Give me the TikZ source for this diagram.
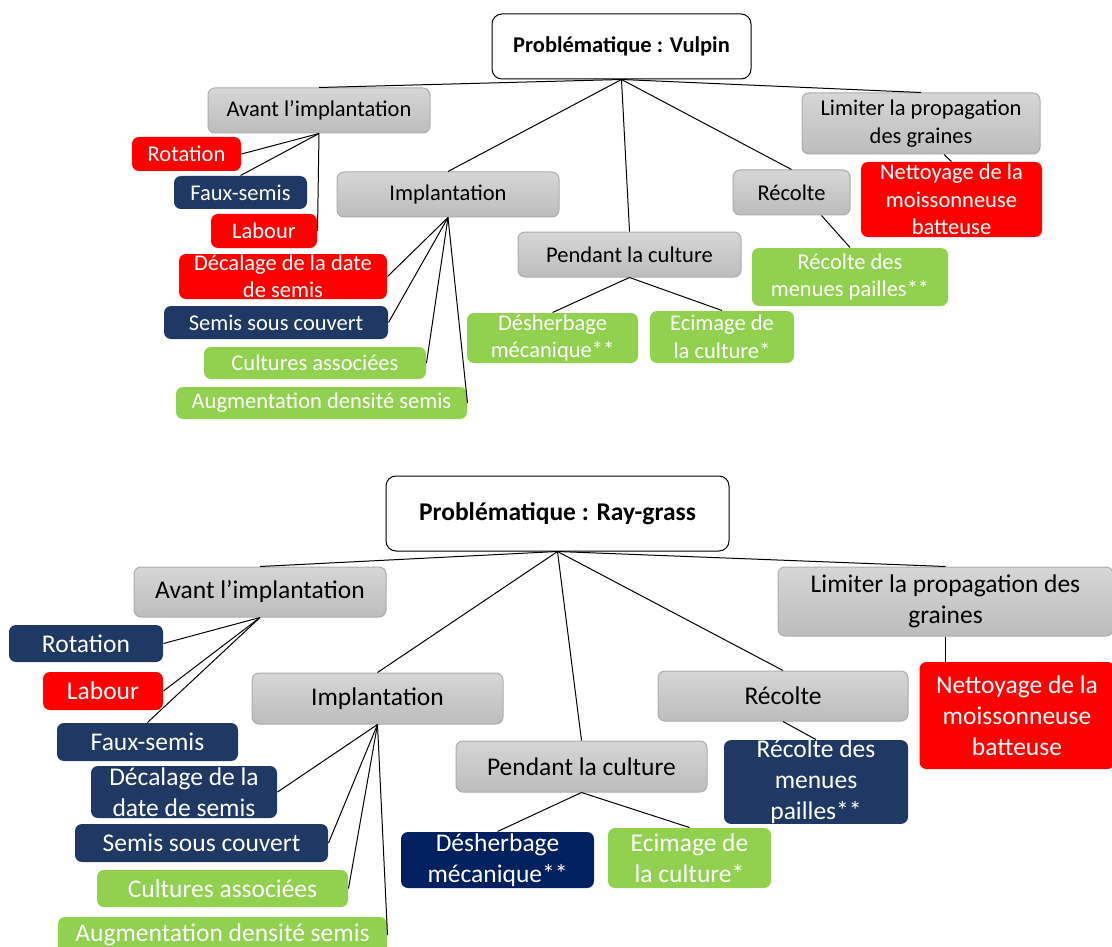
\documentclass[tikz,border=0pt]{standalone}
\usepackage{fontspec}
\setmainfont{Carlito}
\definecolor{crouge}{HTML}{FF0000}
\definecolor{cmarine}{HTML}{203864}
\definecolor{cmarinef}{HTML}{002060}
\definecolor{cvert}{HTML}{92D050}
\definecolor{cgrish}{HTML}{D6D6D6}
\definecolor{cgrisb}{HTML}{BCBCBC}
\definecolor{cgrisc}{HTML}{ADADAD}
\tikzset{
  boite/.style={rounded corners=7pt,inner sep=0pt,align=center},
  gris/.style={boite,draw=cgrisc,top color=cgrish,bottom color=cgrisb},
  rouge/.style={boite,fill=crouge,text=white},
  bleu/.style={boite,fill=cmarine,text=white},
  bleuf/.style={boite,fill=cmarinef,text=white},
  vert/.style={boite,fill=cvert,text=white},
  titre/.style={boite,draw,fill=white,rounded corners=10pt},
  sz/.style 2 args={minimum width=#1,minimum height=#2}
}
\begin{document}
\begin{tikzpicture}[x=1pt,y=-1pt,line width=1pt]
\useasboundingbox (0,0) rectangle (1112,947);
\begin{scope}[font=\fontsize{22.5}{27.5}\selectfont]
\node (root1) at (621.5,46.5) [titre,sz={259}{65}] {\fontsize{22.5}{26}\selectfont\bfseries Problématique : Vulpin};
\node (avant1) at (319,110.5) [gris,sz={222}{45}] {Avant l’implantation};
\node (rot1) at (186.5,154) [rouge,sz={109}{34}] {Rotation};
\node (faux1) at (240.5,192.5) [bleu,sz={133}{33}] {Faux-semis};
\node (lab1) at (264,231) [rouge,sz={106}{34}] {Labour};
\node (dec1) at (283,276.5) [rouge,sz={208}{45}] {Décalage de la date\\de semis};
\node (sous1) at (276,322.5) [bleu,sz={224}{33}] {Semis sous couvert};
\node (cult1) at (315,363) [vert,sz={222}{32}] {Cultures associées};
\node (aug1) at (321.5,403) [vert,sz={291}{32}] {Augmentation densité semis};
\node (impl1) at (448,194.5) [gris,sz={222}{45}] {Implantation};
\node (pend1) at (629.5,254.5) [gris,sz={223}{45}] {Pendant la culture};
\node (des1) at (552.5,338) [vert,sz={171}{50}] {Désherbage\\mécanique**};
\node (eci1) at (722,337) [vert,sz={144}{52}] {Ecimage de\\la culture*};
\node (rec1) at (791.5,192.5) [gris,sz={117}{45}] {Récolte};
\node (pail1) at (850,277) [vert,sz={196}{58}] {Récolte des\\menues pailles**};
\node (lim1) at (921,123.5) [gris,sz={238}{61}] {Limiter la propagation\\des graines};
\node (net1) at (951.5,199.5) [rouge,sz={181}{75}] {Nettoyage de la\\moissonneuse\\batteuse};
\end{scope}
\draw (root1.south) -- (avant1.north);
\draw (root1.south) -- (impl1.north);
\draw (root1.south) -- (pend1.north);
\draw (root1.south) -- (rec1.north);
\draw (root1.south) -- (lim1.north);
\draw (avant1.south) -- (rot1.east);
\draw (avant1.south) -- (faux1.north);
\draw (avant1.south) -- (lab1.east);
\draw (impl1.south) -- (dec1.east);
\draw (impl1.south) -- (sous1.east);
\draw (impl1.south) -- (cult1.east);
\draw (impl1.south) -- (aug1.east);
\draw (pend1.south) -- (des1.north);
\draw (pend1.south) -- (eci1.north);
\draw ([xshift=30]rec1.south) -- (pail1.north);
\draw ([xshift=23]lim1.south) -- (net1.north);
\begin{scope}[font=\fontsize{25.5}{31}\selectfont]
\node (root2) at (557.5,513.5) [titre,sz={343}{75}] {\fontsize{25.5}{30}\selectfont\bfseries Problématique : Ray-grass};
\node (avant2) at (260,592) [gris,sz={252}{50}] {Avant l’implantation};
\node (rot2) at (86,643.5) [bleu,sz={154}{37}] {Rotation};
\node (lab2) at (103,691) [rouge,sz={120}{38}] {Labour};
\node (faux2) at (147.5,742) [bleu,sz={181}{38}] {Faux-semis};
\node (dec2) at (184,792) [bleu,sz={186}{52}] {Décalage de la\\date de semis};
\node (sous2) at (201.5,843) [bleu,sz={253}{38}] {Semis sous couvert};
\node (cult2) at (222.5,888.5) [vert,sz={251}{37}] {Cultures associées};
\node (aug2) at (222.5,935) [vert,sz={329}{36}] {Augmentation densité semis};
\node (impl2) at (377.5,698.5) [gris,sz={251}{51}] {Implantation};
\node (pend2) at (581.5,766.5) [gris,sz={251}{51}] {Pendant la culture};
\node (des2) at (497.5,860) [bleuf,sz={193}{56}] {Désherbage\\mécanique**};
\node (eci2) at (689.5,858) [vert,sz={163}{60}] {Ecimage de\\la culture*};
\node (rec2) at (783,696) [gris,sz={250}{50}] {Récolte};
\node (pail2) at (816,782) [bleu,sz={184}{82}] {Récolte des\\menues\\pailles**};
\node (lim2) at (945.5,601.5) [gris,sz={335}{69}] {Limiter la propagation des\\graines};
\node (net2) at (1017,715.5) [rouge,sz={195}{107}] {Nettoyage de la\\moissonneuse\\batteuse};
\end{scope}
\draw (root2.south) -- (avant2.north);
\draw (root2.south) -- (impl2.north);
\draw (root2.south) -- (pend2.north);
\draw (root2.south) -- (rec2.north);
\draw (root2.south) -- (lim2.north);
\draw (avant2.south) -- (rot2.east);
\draw (avant2.south) -- (lab2.east);
\draw (avant2.south) -- (faux2.north);
\draw (impl2.south) -- (dec2.east);
\draw (impl2.south) -- (sous2.east);
\draw (impl2.south) -- (cult2.east);
\draw (impl2.south) -- (aug2.east);
\draw (pend2.south) -- (des2.north);
\draw (pend2.south) -- (eci2.north);
\draw (rec2.south) -- (pail2.north);
\draw (lim2.south) -- (lim2.south |- net2.north);
\end{tikzpicture}
\end{document}
